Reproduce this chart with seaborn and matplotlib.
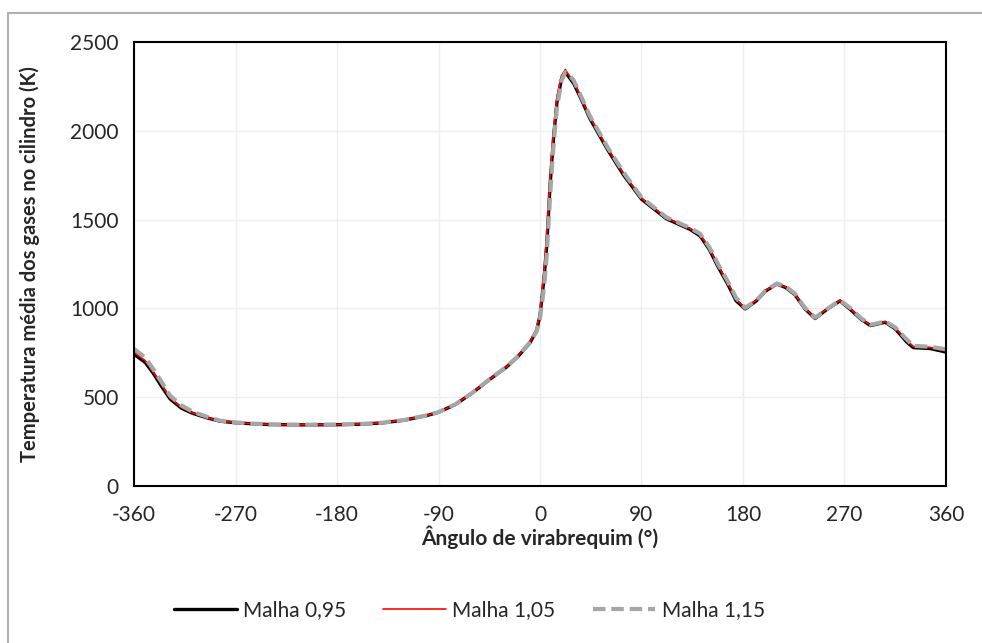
import pandas as pd
import matplotlib.pyplot as plt
import seaborn as sns
from matplotlib.lines import Line2D

# ---- data (crank angle in degrees, temperature in K) ----
angulo = [-360, -350, -343, -335, -328, -318, -308, -295, -284, -270,
          -255, -240, -210, -180, -160, -140, -120, -100, -90, -75,
          -60, -45, -30, -20, -9, -3, 0, 2, 4, 6,
          9, 12, 15, 19, 22.5, 26, 30, 37, 44, 52,
          60, 74, 90, 112, 133, 142, 150, 158, 166, 174,
          182, 192, 200, 210, 218, 226, 235, 244, 255, 266,
          275, 285, 293, 300, 306, 315, 325, 331, 346, 360]

malha_095 = [742, 695, 635, 555, 490, 438, 409, 383, 365, 356,
             350, 346, 344, 345, 348, 355, 371, 397, 415, 459,
             524, 598, 668, 726, 805, 875, 960, 1075, 1200, 1360,
             1700, 1960, 2160, 2290, 2330, 2300, 2265, 2172, 2072, 1982,
             1893, 1752, 1615, 1505, 1445, 1408, 1333, 1233, 1142, 1042,
             997, 1043, 1097, 1137, 1117, 1077, 997, 943, 997, 1042,
             995, 937, 903, 913, 922, 885, 812, 779, 774, 754]

malha_105 = [755, 705, 642, 565, 495, 442, 411, 385, 366, 357,
             351, 347, 345, 346, 349, 356, 372, 398, 416, 460,
             525, 600, 670, 728, 810, 885, 975, 1100, 1240, 1420,
             1750, 1995, 2190, 2310, 2345, 2310, 2275, 2180, 2080, 1990,
             1900, 1760, 1620, 1510, 1450, 1415, 1340, 1240, 1150, 1050,
             1000, 1047, 1100, 1140, 1120, 1080, 1000, 946, 1000, 1045,
             1000, 940, 906, 915, 925, 890, 820, 785, 780, 760]

malha_115 = [772, 722, 658, 580, 508, 454, 418, 389, 368, 358,
             351, 347, 345, 346, 349, 356, 372, 398, 416, 460,
             525, 600, 670, 728, 808, 870, 945, 1040, 1150, 1300,
             1640, 1920, 2130, 2280, 2330, 2315, 2282, 2186, 2086, 1996,
             1906, 1766, 1625, 1513, 1453, 1420, 1346, 1248, 1158, 1058,
             1003, 1046, 1100, 1140, 1123, 1083, 1003, 948, 998, 1045,
             1003, 943, 908, 917, 927, 893, 826, 789, 784, 770]

series = ["Malha 0,95", "Malha 1,05", "Malha 1,15"]
x_ticks = [-360, -270, -180, -90, 0, 90, 180, 270, 360]
y_ticks = [0, 500, 1000, 1500, 2000, 2500]

df = pd.DataFrame({
    "angulo": angulo * 3,
    "temperatura": malha_095 + malha_105 + malha_115,
    "malha": [series[0]] * len(angulo) + [series[1]] * len(angulo) + [series[2]] * len(angulo),
})

sns.set_style("white")
plt.rcParams["font.family"] = ["Lato", "DejaVu Sans"]
plt.rcParams["axes.unicode_minus"] = False

fig = plt.figure(figsize=(9.82, 6.43), dpi=100)
ax = fig.add_axes([0.1365, 0.2442, 0.8268, 0.6905])

estilos = {
    series[0]: dict(color="black", lw=2.4),
    series[1]: dict(color="#ff0000", lw=1.2),
    series[2]: dict(color="#a6a6a6", lw=3.0, dashes=(3, 1.4)),
}
for nome in series:
    st = estilos[nome]
    sns.lineplot(data=df[df["malha"] == nome], x="angulo", y="temperatura",
                 color=st["color"], linewidth=st["lw"], label=nome,
                 sort=False, estimator=None, ax=ax)
    if "dashes" in st:
        ax.lines[-1].set_dashes(st["dashes"])

ax.set_xlim(-360, 360)
ax.set_ylim(0, 2500)
ax.set_xticks(x_ticks)
ax.set_yticks(y_ticks)
ax.grid(True, color="#eeeeee", linewidth=1)
ax.set_axisbelow(True)
for s in ax.spines.values():
    s.set_color("black")
    s.set_linewidth(1.5)
ax.tick_params(axis="both", which="major", direction="out", length=5,
               width=1.2, color="black", labelsize=15, pad=6)
ax.tick_params(axis="x", pad=9)

ax.set_xlabel("Ângulo de virabrequim (°)", fontsize=15, fontweight="bold", labelpad=0)
ax.set_ylabel("Temperatura média dos gases no cilindro (K)", fontsize=14.5,
              fontweight="bold", labelpad=22)

ax.legend(loc="upper center", bbox_to_anchor=(0.413, -0.215), ncol=3, frameon=False,
          fontsize=15, handlelength=3.0, handletextpad=0.3, columnspacing=1.8)

# chart area frame (light grey, left and top edges visible in the crop)
fig.add_artist(Line2D([8 / 982, 8 / 982], [0, 1 - 13 / 643], transform=fig.transFigure,
                      color="#b0b0b0", lw=1.5))
fig.add_artist(Line2D([8 / 982, 1], [1 - 13 / 643, 1 - 13 / 643], transform=fig.transFigure,
                      color="#b0b0b0", lw=1.5))

fig.savefig("out.png", dpi=100)
